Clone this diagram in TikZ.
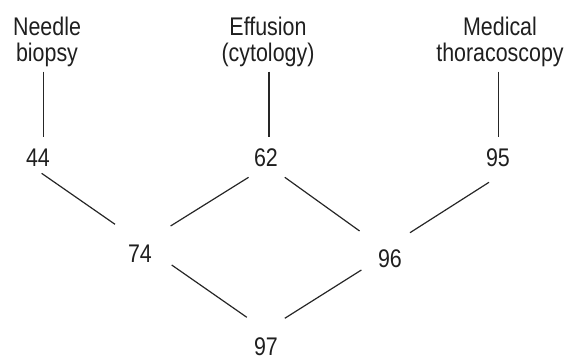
\documentclass[tikz,border=0pt]{standalone}
\usepackage{fontspec}
\setmainfont{Liberation Sans}[FakeStretch=0.84]
\begin{document}
\begin{tikzpicture}[x=1pt,y=1pt,
  lbl/.style={inner sep=0pt, align=center, font=\fontsize{25.5}{26}\selectfont, text=black!88},
  num/.style={inner sep=0pt, text height=18.3pt, text depth=0pt, font=\fontsize{25.5}{26}\selectfont, text=black!88},
  conn/.style={line width=1.2pt, draw=black!85}]
\useasboundingbox (0,0) rectangle (566,356);
% numbers
\node[num] (n44) at (38,198.5) {44};
\node[num] (n62) at (266,198.5) {62};
\node[num] (n95) at (498,198.5) {95};
\node[num] (n74) at (140,103) {74};
\node[num] (n96) at (390,98) {96};
\node[num] (n97) at (266,10) {97};
% labels (base = baseline of last line)
\node[lbl, anchor=base] (lN) at (47,294.5) {Needle\\biopsy};
\node[lbl, anchor=base] (lE) at (268,294.5) {Effusion\\(cytology)};
\node[lbl, anchor=base] (lM) at (500,294.5) {Medical\\thoracoscopy};
% vertical connectors
\draw[conn] ([shift={(5.4,85.8)}]n44.center) -- ([shift={(5.4,20.8)}]n44.center);
\draw[conn] ([shift={(2.9,85.8)}]n62.center) -- ([shift={(2.9,20.8)}]n62.center);
\draw[conn] ([shift={(0.7,85.8)}]n95.center) -- ([shift={(0.7,20.8)}]n95.center);
% diagonal connectors
\draw[conn] ([shift={(3.6,-15.8)}]n44.center) -- ([shift={(-25,28.7)}]n74.center);
\draw[conn] ([shift={(-17.4,-19.8)}]n62.center) -- ([shift={(30.6,27)}]n74.center);
\draw[conn] ([shift={(18.8,-19.8)}]n62.center) -- ([shift={(-30.4,27)}]n96.center);
\draw[conn] ([shift={(-9,-24.8)}]n95.center) -- ([shift={(20,25.3)}]n96.center);
\draw[conn] ([shift={(31.7,-12)}]n74.center) -- ([shift={(-19.2,28.7)}]n97.center);
\draw[conn] ([shift={(-28.6,-12)}]n96.center) -- ([shift={(18.8,27.7)}]n97.center);
\end{tikzpicture}
\end{document}
